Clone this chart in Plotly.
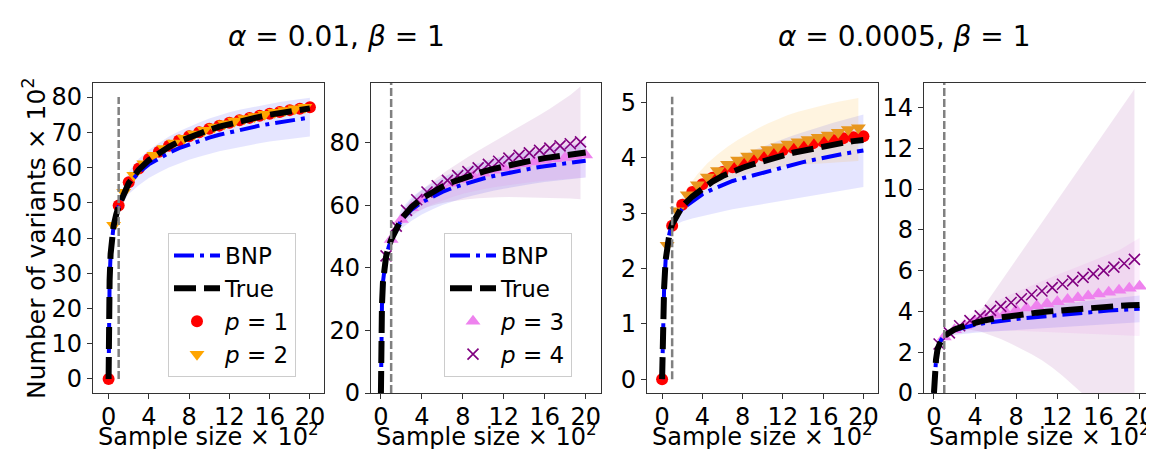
import plotly.graph_objects as go

FONT = "DejaVu Sans"

# sample size (x 10^2)
X_CURVE = [0, 0.02, 0.05, 0.1, 0.2, 0.35, 0.5, 0.75, 1, 2, 3, 4, 5, 6, 7, 8, 9, 10,
           11, 12, 13, 14, 15, 16, 17, 18, 19, 20]
X_INT = [0, 1, 2, 3, 4, 5, 6, 7, 8, 9, 10, 11, 12, 13, 14, 15, 16, 17, 18, 19, 20]
X_HALF = [0.5, 1.5, 2.5, 3.5, 4.5, 5.5, 6.5, 7.5, 8.5, 9.5, 10.5, 11.5, 12.5, 13.5,
          14.5, 15.5, 16.5, 17.5, 18.5, 19.5]
X_BAND = X_INT[1:]
X_BAND_HALF = X_HALF[1:]
TRAIN_SIZE = 1

# ---- alpha = 0.01, beta = 1 (number of variants x 10^2)
TRUE_A = [0, 14, 22, 28, 35.5, 40.5, 43.5, 46.6, 49, 55.6, 59.4, 62.1, 64.2, 65.9, 67.4,
          68.6, 69.7, 70.7, 71.6, 72.4, 73.1, 73.8, 74.4, 75.0, 75.5, 76.0, 76.4, 76.8]
BNP_A = [0, 14, 22, 28, 35.5, 40.5, 43.5, 46.6, 49, 55.3, 58.6, 60.9, 62.7, 64.2, 65.5,
         66.6, 67.6, 68.5, 69.3, 70.0, 70.7, 71.3, 71.9, 72.4, 72.9, 73.4, 73.8, 74.2]
BNP_A_HI = [50.0, 58.8, 62.5, 65.0, 67.0, 68.8, 70.3, 71.6, 72.8, 73.9, 74.9, 75.7, 76.4,
            77.0, 77.6, 78.1, 78.6, 79.0, 79.4, 79.8]
BNP_A_LO = [48.0, 52.5, 55.0, 57.0, 58.6, 60.0, 61.2, 62.2, 63.1, 63.9, 64.6, 65.2, 65.8,
            66.4, 66.9, 67.4, 67.8, 68.2, 68.5, 68.8]
P1_A = [0, 49.2, 55.8, 59.7, 62.4, 64.5, 66.2, 67.7, 68.9, 70.0, 71.0, 71.9, 72.7, 73.4,
        74.1, 74.7, 75.3, 75.8, 76.3, 76.7, 77.1]
P2_A = [43.6, 53.0, 57.8, 61.1, 63.5, 65.4, 67.0, 68.3, 69.5, 70.6, 71.5, 72.4, 73.2, 73.9,
        74.5, 75.1, 75.7, 76.2, 76.7, 77.1]
P3_A = [49.0, 55.4, 59.2, 61.9, 63.9, 65.6, 67.0, 68.2, 69.3, 70.2, 71.1, 71.9, 72.6, 73.2,
        73.8, 74.3, 74.8, 75.2, 75.6, 76.0]
P4_A = [43.8, 53.3, 58.3, 61.7, 64.2, 66.2, 67.9, 69.4, 70.7, 71.9, 73.0, 74.0, 75.0, 75.9,
        76.7, 77.5, 78.2, 78.9, 79.6, 80.2]
P3_A_HI = [49.5, 57.0, 60.8, 63.5, 65.6, 67.4, 69.0, 70.4, 71.7, 72.9, 74.0, 75.0, 76.0,
           76.9, 77.8, 78.6, 79.4, 80.1, 80.8, 81.4]
P3_A_LO = [48.5, 53.5, 56.5, 58.6, 60.2, 61.5, 62.6, 63.6, 64.4, 65.1, 65.7, 66.2, 66.7,
           67.1, 67.5, 67.8, 68.1, 68.4, 68.6, 68.8]
P4_A_HI = [54.5, 60.0, 63.5, 66.3, 68.8, 71.1, 73.3, 75.4, 77.4, 79.3, 81.1, 83.0, 84.8,
           86.8, 88.8, 90.8, 92.9, 95.2, 97.9]
P4_A_LO = [52.0, 55.5, 57.8, 59.3, 60.3, 61.0, 61.5, 61.9, 62.2, 62.4, 62.5, 62.6, 62.6,
           62.5, 62.4, 62.3, 62.2, 62.1, 61.9]

# ---- alpha = 0.0005, beta = 1
TRUE_B = [0, 0.3, 0.6, 1.0, 1.65, 2.15, 2.42, 2.65, 2.8, 3.12, 3.3, 3.45, 3.57, 3.67, 3.75,
          3.82, 3.88, 3.94, 3.99, 4.04, 4.09, 4.13, 4.17, 4.21, 4.24, 4.27, 4.3, 4.32]
BNP_B = [0, 0.3, 0.6, 1.0, 1.65, 2.15, 2.42, 2.65, 2.8, 3.08, 3.22, 3.34, 3.43, 3.51, 3.58,
         3.63, 3.68, 3.73, 3.78, 3.83, 3.88, 3.92, 3.96, 4.0, 4.04, 4.07, 4.1, 4.13]
BNP_B_HI = [2.82, 3.25, 3.45, 3.6, 3.74, 3.86, 3.96, 4.05, 4.13, 4.2, 4.27, 4.34, 4.4, 4.46,
            4.52, 4.57, 4.63, 4.68, 4.73, 4.78]
BNP_B_LO = [2.76, 2.85, 2.9, 2.95, 2.99, 3.03, 3.07, 3.1, 3.13, 3.16, 3.19, 3.22, 3.25, 3.28,
            3.31, 3.34, 3.37, 3.4, 3.44, 3.47]
P1_B = [0, 2.77, 3.15, 3.38, 3.52, 3.64, 3.74, 3.83, 3.91, 3.98, 4.04, 4.09, 4.14, 4.18,
        4.22, 4.26, 4.29, 4.32, 4.35, 4.37, 4.39]
P2_B = [2.42, 3.04, 3.33, 3.51, 3.65, 3.77, 3.88, 3.96, 4.03, 4.09, 4.15, 4.2, 4.25, 4.29,
        4.33, 4.37, 4.41, 4.46, 4.51, 4.54]
P2_B_HI = [3.1, 3.45, 3.7, 3.9, 4.06, 4.2, 4.32, 4.43, 4.53, 4.62, 4.7, 4.77, 4.83, 4.88,
           4.93, 4.97, 5.01, 5.05, 5.08]
P2_B_LO = [2.98, 3.2, 3.35, 3.45, 3.53, 3.6, 3.66, 3.71, 3.75, 3.79, 3.82, 3.85, 3.87, 3.89,
           3.9, 3.91, 3.92, 3.93, 3.94]
P3_B = [2.75, 3.1, 3.3, 3.5, 3.68, 3.83, 3.96, 4.07, 4.17, 4.28, 4.38, 4.48, 4.58, 4.67,
        4.76, 4.85, 4.94, 5.04, 5.14, 5.24]
P4_B = [2.4, 2.95, 3.3, 3.55, 3.78, 4.05, 4.25, 4.44, 4.62, 4.82, 5.0, 5.17, 5.33, 5.5,
        5.67, 5.84, 6.0, 6.17, 6.35, 6.55]
P3_B_HI = [2.8, 3.3, 3.7, 4.0, 4.25, 4.5, 4.72, 4.95, 5.17, 5.38, 5.6, 5.8, 6.0, 6.2, 6.4,
           6.6, 6.8, 7.0, 7.3, 7.6]
P3_B_LO = [2.7, 2.85, 2.95, 3.0, 3.02, 3.04, 3.05, 3.05, 3.04, 3.03, 3.01, 2.99, 2.97,
           2.95, 2.92, 2.9, 2.87, 2.85, 2.82, 2.8]
P4_B_HI = [3.0, 3.3, 3.6, 4.0, 4.73, 5.45, 6.18, 6.9, 7.63, 8.36, 9.09, 9.81, 10.54,
           11.27, 12.0, 12.72, 13.45, 14.18, 14.9]
P4_B_LO = [2.9, 3.05, 3.1, 3.02, 2.85, 2.65, 2.42, 2.18, 1.9, 1.6, 1.25, 0.85, 0.42, -0.05,
           -0.55, -1.1, -1.7, -2.3, -2.9]

TITLES = ["<i>α</i> = 0.01, <i>β</i> = 1", "<i>α</i> = 0.0005, <i>β</i> = 1"]
X_TITLE = "Sample size × 10<sup>2</sup>"
Y_TITLE = "Number of variants × 10<sup>2</sup>"

BLUE = "#0000ff"
RED = "#ff0000"
ORANGE = "#ffa500"
VIOLET = "#ee82ee"
PURPLE = "#800080"

fig = go.Figure()


def band(ax, xs, lo, hi, color):
    fig.add_trace(go.Scatter(x=xs + xs[::-1], y=hi + lo[::-1], fill="toself",
                             fillcolor=color, line=dict(width=0), mode="lines",
                             hoverinfo="skip", showlegend=False,
                             xaxis="x" + ax, yaxis="y" + ax))


def markers(ax, xs, ys, name, symbol, color, size, leg):
    mk = dict(symbol=symbol, color=color, size=size)
    if symbol == "x-thin":
        mk["line"] = dict(color=color, width=1.6)
    fig.add_trace(go.Scatter(x=xs, y=ys, mode="markers", name=name, marker=mk,
                             showlegend=leg is not None, legend=leg or "legend",
                             xaxis="x" + ax, yaxis="y" + ax))


def curves(ax, bnp, true, leg):
    fig.add_trace(go.Scatter(x=X_CURVE, y=bnp, mode="lines", name="BNP",
                             line=dict(color=BLUE, width=4, dash="20px,6px,4px,6px"),
                             showlegend=leg is not None, legend=leg or "legend",
                             legendrank=1, xaxis="x" + ax, yaxis="y" + ax))
    fig.add_trace(go.Scatter(x=X_CURVE, y=true, mode="lines", name="True",
                             line=dict(color="black", width=6, dash="22px,8px"),
                             showlegend=leg is not None, legend=leg or "legend",
                             legendrank=2, xaxis="x" + ax, yaxis="y" + ax))


# panel 1
band("", X_BAND, BNP_A_LO, BNP_A_HI, "rgba(0,0,255,0.1)")
markers("", X_INT, P1_A, "<i>p</i> = 1", "circle", RED, 12, "legend")
markers("", X_HALF, P2_A, "<i>p</i> = 2", "triangle-down", ORANGE, 13, "legend")
curves("", BNP_A, TRUE_A, "legend")

# panel 2
band("2", X_BAND, BNP_A_LO, BNP_A_HI, "rgba(0,0,255,0.1)")
band("2", X_BAND, P3_A_LO, P3_A_HI, "rgba(238,130,238,0.12)")
band("2", X_BAND_HALF, P4_A_LO, P4_A_HI, "rgba(128,0,128,0.1)")
markers("2", X_BAND, P3_A, "<i>p</i> = 3", "triangle-up", VIOLET, 13, "legend2")
markers("2", X_HALF, P4_A, "<i>p</i> = 4", "x-thin", PURPLE, 11, "legend2")
curves("2", BNP_A, TRUE_A, "legend2")

# panel 3
band("3", X_BAND, BNP_B_LO, BNP_B_HI, "rgba(0,0,255,0.1)")
band("3", X_BAND_HALF, P2_B_LO, P2_B_HI, "rgba(255,165,0,0.12)")
markers("3", X_INT, P1_B, "p1", "circle", RED, 12, None)
markers("3", X_HALF, P2_B, "p2", "triangle-down", "#e8961e", 13, None)
curves("3", BNP_B, TRUE_B, None)

# panel 4
band("4", X_BAND, BNP_B_LO, BNP_B_HI, "rgba(0,0,255,0.1)")
band("4", X_BAND, P3_B_LO, P3_B_HI, "rgba(238,130,238,0.12)")
band("4", X_BAND_HALF, P4_B_LO, P4_B_HI, "rgba(128,0,128,0.1)")
markers("4", X_BAND, P3_B, "p3", "triangle-up", VIOLET, 13, None)
markers("4", X_HALF, P4_B, "p4", "x-thin", PURPLE, 11, None)
curves("4", BNP_B, TRUE_B, None)

W, H = 1154, 449
X_DOM = [(85, 316), (363, 593), (639, 870), (916, 1147)]
Y_DOM = (1 - 385 / H, 1 - 75 / H)
X_RANGES = [[-1.55, 21.4], [-0.97, 21.5], [-1.5, 21.45], [-0.97, 21.5]]
Y_RANGES = [[-4, 84], [0, 99], [-0.25, 5.35], [0, 15.2]]
Y_DTICK = [10, 20, 1, 2]
VLINE_SPAN = [(0, 80), None, (0, 5.1), None]
TITLE_X = [328, 896]

tick_font = dict(family=FONT, size=24, color="black")
label_font = dict(family=FONT, size=24, color="black")
layout = dict(
    width=W, height=H, template="none", plot_bgcolor="white", paper_bgcolor="white",
    margin=dict(l=0, r=0, t=0, b=0), font=dict(family=FONT, size=22, color="black"),
    showlegend=True,
)
for i in range(4):
    s = "" if i == 0 else str(i + 1)
    a, b = X_DOM[i]
    layout["xaxis" + s] = dict(
        domain=[a / W, b / W], range=X_RANGES[i], anchor="y" + s, dtick=4, tick0=0,
        ticks="outside", ticklen=5, tickwidth=1.3, tickcolor="#333", showline=True,
        mirror=True, linecolor="#333", linewidth=1.3, showgrid=False, zeroline=False,
        tickfont=tick_font, automargin=False, ticklabelstandoff=-3,
    )
    layout["yaxis" + s] = dict(
        domain=list(Y_DOM), range=Y_RANGES[i], anchor="x" + s, dtick=Y_DTICK[i], tick0=0,
        ticks="outside", ticklen=5, tickwidth=1.3, tickcolor="#333", showline=True,
        mirror=True, linecolor="#333", linewidth=1.3, showgrid=False, zeroline=False,
        tickfont=tick_font, automargin=False,
    )

leg_style = dict(bgcolor="rgba(255,255,255,0.8)", bordercolor="#cccccc", borderwidth=1,
                 font=dict(family=FONT, size=23, color="black"), xanchor="left",
                 yanchor="top", y=1 - 225 / H, tracegroupgap=0, itemwidth=46)
layout["legend"] = dict(leg_style, x=160 / W)
layout["legend2"] = dict(leg_style, x=436 / W)

shapes = []
for i, span in enumerate(VLINE_SPAN):
    s = "" if i == 0 else str(i + 1)
    ln = dict(color="gray", width=2.5, dash="8px,3px")
    if span is None:
        shapes.append(dict(type="line", xref="x" + s, yref="y" + s + " domain",
                           x0=TRAIN_SIZE, x1=TRAIN_SIZE, y0=0, y1=1, line=ln, layer="above"))
    else:
        shapes.append(dict(type="line", xref="x" + s, yref="y" + s, x0=TRAIN_SIZE,
                           x1=TRAIN_SIZE, y0=span[0], y1=span[1], line=ln, layer="above"))
layout["shapes"] = shapes

annotations = []
for tx, t in zip(TITLE_X, TITLES):
    annotations.append(dict(text=t, x=tx / W, y=1 - 29 / H, xref="paper",
                            yref="paper", showarrow=False, xanchor="center",
                            yanchor="middle", font=dict(family=FONT, size=28, color="black")))
for a, b in X_DOM:
    annotations.append(dict(text=X_TITLE, x=(a + b) / 2 / W, y=1 - 427 / H, xref="paper",
                            yref="paper", showarrow=False, xanchor="center",
                            yanchor="middle", font=label_font))
annotations.append(dict(text=Y_TITLE, x=26 / W, y=1 - 230 / H, xref="paper", yref="paper",
                        showarrow=False, textangle=-90, xanchor="center", yanchor="middle",
                        font=dict(family=FONT, size=25, color="black")))
layout["annotations"] = annotations

fig.update_layout(**layout)
fig.write_html("out.html")
